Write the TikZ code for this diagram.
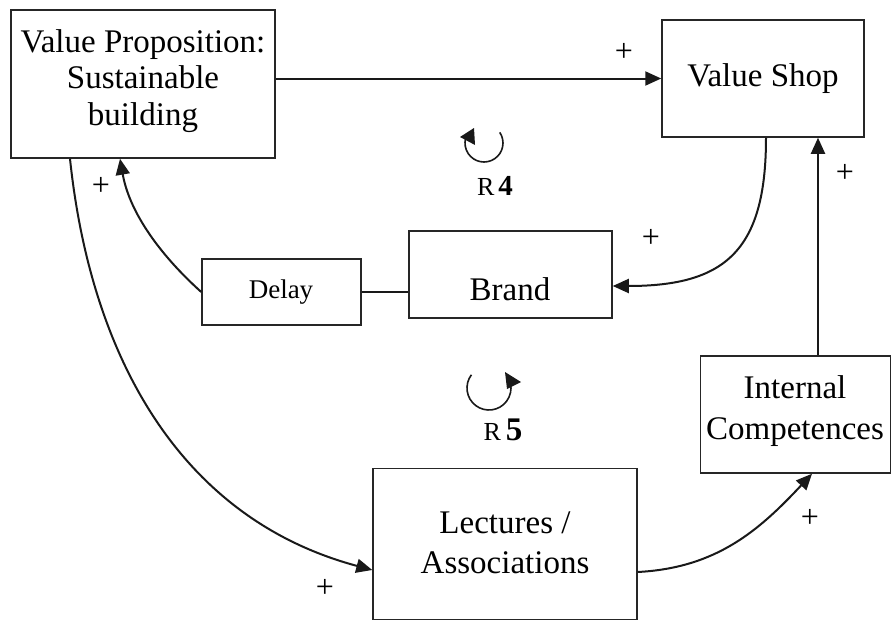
\documentclass[tikz,border=0pt]{standalone}
\usepackage{fontspec}
\setmainfont{Liberation Serif}
\usetikzlibrary{arrows.meta}
\begin{document}
\begin{tikzpicture}[x=1pt,y=-1pt,
  box/.style={draw=black!85, line width=1.5pt, inner sep=0pt},
  lbl/.style={font=\fontsize{33}{36.5}\selectfont, align=center, inner sep=0pt},
  link/.style={line width=2pt, draw=black!90, -{Triangle[length=16pt,width=14pt]}},
  plain/.style={line width=2pt, draw=black!90},
  sign/.style={font=\fontsize{32}{32}\selectfont, inner sep=0pt},
  looptip/.style={fill=black!90, draw=none}]
\useasboundingbox (0,0) rectangle (892,621);

% boxes
\node[box, minimum width=264pt, minimum height=148pt] (vp) at (143,84) {};
\node[box, minimum width=202pt, minimum height=117pt] (vs) at (763,78.5) {};
\node[box, minimum width=203pt, minimum height=87pt] (brand) at (510.5,274.5) {};
\node[box, minimum width=159pt, minimum height=66pt] (delay) at (281.5,292) {};
\node[box, minimum width=190pt, minimum height=117pt] (ic) at (795.5,414.5) {};
\node[box, minimum width=264pt, minimum height=151pt] (lect) at (505,544) {};

% box texts
\node[lbl] (vpt) at (143,81) {Value Proposition:\\Sustainable\\building};
\node[lbl] (vst) at (763,79) {Value Shop};
\node[lbl] (brt) at (510,289) {Brand};
\node[lbl, font=\fontsize{27}{32}\selectfont] (dlt) at (281,292) {Delay};
\node[lbl, font=\fontsize{33}{41}\selectfont] (ict) at (795,411) {Internal\\Competences};
\node[lbl, font=\fontsize{33}{40}\selectfont] (lct) at (505,543) {Lectures /\\Associations};

% anchor points on the box borders
\coordinate (vpA) at ([xshift=-73pt]vp.south);
\coordinate (vpB) at ([xshift=-23pt]vp.south);
\coordinate (vsB) at ([xshift=3pt]vs.south);
\coordinate (vsC) at ([xshift=55pt]vs.south);
\coordinate (brE) at ([yshift=-11.5pt]brand.east);
\coordinate (icB) at ([xshift=16.5pt]ic.south);
\coordinate (lcE) at ([yshift=-28pt]lect.east);
\coordinate (lcW) at ([yshift=-26pt]lect.west);

% connectors
\draw[link] (vs.west -| vp.east) -- (vs.west);
\draw[link] (vsB) to[out=-90, in=0, looseness=1.35] (brE);
\draw[link] (ic.north -| vsC) -- (vsC);
\draw[plain] (delay.east) -- (delay.east -| brand.west);
\draw[link] (delay.west) to[out=138, in=-80, looseness=0.9] (vpB);
\draw[link] (vpA) to[out=-84, in=165, looseness=1.0] (lcW);
\draw[link] (lcE) to[out=3, in=-133, looseness=1.0] (icB);

% polarity signs
\node[sign] (s1) at (624,52) {+};
\node[sign] (s2) at (651,238) {+};
\node[sign] (s3) at (845,173) {+};
\node[sign] (s4) at (101,186) {+};
\node[sign] (s5) at (325,588) {+};
\node[sign] (s6) at (810,518) {+};

% loop markers
\coordinate (r4c) at (484,143);
\draw[plain, line width=1.6pt] ([shift={(34:19pt)}]r4c) arc[start angle=34, end angle=-195, radius=19pt];
\fill[looptip] (460,137) -- (474,128) -- (475,145) -- cycle;
\node[inner sep=0pt] (r4) at (495,186) {\fontsize{26}{26}\selectfont R\hspace{4pt}\textbf{\fontsize{29}{29}\selectfont 4}};

\coordinate (r5c) at (489,388);
\draw[plain, line width=1.6pt] ([shift={(143:22pt)}]r5c) arc[start angle=143, end angle=372, radius=22pt];
\fill[looptip] (505,372) -- (507,389) -- (521,382) -- cycle;
\node[inner sep=0pt] (r5) at (503,430) {\fontsize{26}{26}\selectfont R\hspace{5pt}\textbf{\fontsize{33}{33}\selectfont 5}};
\end{tikzpicture}
\end{document}
